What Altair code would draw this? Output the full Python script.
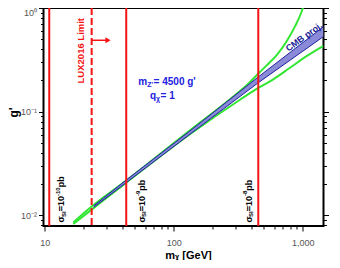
import altair as alt
import pandas as pd

# ---------------- data ----------------
X_DOMAIN = [9.8, 1450]
Y_DOMAIN = [0.00785, 1.0]

x_major_values = [10, 100, 1000]
x_major_labels = ["10", "100", "1,000"]
x_minor_values = [20, 30, 40, 50, 60, 70, 80, 90, 200, 300, 400, 500, 600, 700, 800, 900]
y_major_values = [0.01, 0.1, 1.0]
y_major_labels = ["10⁻²", "10⁻¹", "10⁰"]
y_minor_values = [0.008, 0.009, 0.02, 0.03, 0.04, 0.05, 0.06, 0.07, 0.08, 0.09,
                  0.2, 0.3, 0.4, 0.5, 0.6, 0.7, 0.8, 0.9]

# direct-detection limit lines (GeV)
sigma_line_m = [10.86, 42.9, 452.7]
lux_line_m = [23.14]

# CMB projection band
band_m = [24, 42.9, 133.8, 452.7, 1450]
band_lo = [0.0119, 0.0206, 0.0605, 0.190, 0.53]
band_hi = [0.0123, 0.0218, 0.065, 0.216, 0.66]

# green curves
upper_m = [16.66, 23.14, 42.9, 133.8, 326.6, 368.1, 452.7, 526, 628.6, 751.6, 871.6, 982.2, 1011]
upper_g = [0.0085, 0.0121, 0.0216, 0.066, 0.158, 0.180, 0.232, 0.279, 0.350, 0.4773, 0.6645, 0.9257, 1.034]
lower_m = [16.66, 23.14, 42.9, 133.8, 326.6, 452.7, 591.7, 797.2, 1074, 1450]
lower_g = [0.0082, 0.0113, 0.0206, 0.0605, 0.130, 0.169, 0.2047, 0.2646, 0.3424, 0.43]

# annotations
sigma_label_m = [13.49, 56.8, 383.6]
sigma_label_g = [0.00848, 0.00848, 0.00848]
sigma_label_exp = ["-10", "-9", "-8"]
lux_label = "LUX2016 Limit"
lux_label_m, lux_label_g = 19.1, 0.387
arrow_m = [23.14, 31.0]
arrow_g = 0.488
mz_label_m, mz_label_g = 53.2, 0.193
qx_label_m, qx_label_g = 65.5, 0.1416
cmb_label_m, cmb_label_g = 1023, 0.527

RED = "#f41414"
GREEN = "#33e633"
BAND_FILL = "#8a8ad8"
BAND_EDGE = "#20209e"
TXT_BLUE = "#2121e0"
FONT = "Liberation Sans"

# ---------------- helpers ----------------
def label_expr(vals, labs):
    expr = "''"
    for v, l in reversed(list(zip(vals, labs))):
        expr = f"datum.value == {v} ? '{l}' : " + expr
    return expr


xs = alt.Scale(type="log", domain=X_DOMAIN, nice=False)
ys = alt.Scale(type="log", domain=Y_DOMAIN, nice=False)

common = dict(grid=False, domain=False, tickColor="black", tickWidth=1)

x_axis_major = alt.Axis(values=x_major_values, labelExpr=label_expr(x_major_values, x_major_labels),
                        tickSize=5, labelColor="#555555", labelFontSize=9, labelFont=FONT,
                        labelPadding=7, labelOverlap=False, labelFlush=False, orient="bottom",
                        title="mᵪ [GeV]", titleFont=FONT, titleFontSize=11, titleFontWeight="bold",
                        titleColor="black", titleX=144.5, titleY=29, titleBaseline="middle", **common)
x_axis_minor = alt.Axis(values=x_minor_values, labels=False, tickSize=3, orient="bottom", title="", **common)

y_axis_major = alt.Axis(values=y_major_values, labelExpr=label_expr(y_major_values, y_major_labels),
                        tickSize=5, labelColor="#555555", labelFontSize=9, labelFont=FONT,
                        labelPadding=2, labelOverlap=False, labelFlush=True, orient="left",
                        title="g'", titleFont=FONT, titleFontSize=12, titleFontWeight="bold",
                        titleColor="black", titleX=-30, titleY=104, titleAngle=270,
                        titleAlign="center", titleBaseline="middle", **common)
y_axis_minor = alt.Axis(values=y_minor_values, labels=False, tickSize=3, orient="left", title="", **common)
y_axis_right_major = alt.Axis(values=y_major_values, labels=False, tickSize=5, orient="right", title="", **common)
y_axis_right_minor = alt.Axis(values=y_minor_values, labels=False, tickSize=3, orient="right", title="", **common)


def X(field="m", axis=None):
    return alt.X(f"{field}:Q", scale=xs, axis=axis)


def Y(field="g", axis=None):
    return alt.Y(f"{field}:Q", scale=ys, axis=axis)


layers = []

# invisible layers carrying the axes
base_df = pd.DataFrame({"m": band_m, "g": band_hi})
layers.append(alt.Chart(base_df).mark_point(opacity=0).encode(x=X(axis=x_axis_major), y=Y(axis=y_axis_major)))
layers.append(alt.Chart(base_df).mark_point(opacity=0).encode(x=X(axis=x_axis_minor), y=Y(axis=y_axis_minor)))
layers.append(alt.Chart(base_df).mark_point(opacity=0).encode(x=X(), y=Y(axis=y_axis_right_major)))
layers.append(alt.Chart(base_df).mark_point(opacity=0).encode(x=X(), y=Y(axis=y_axis_right_minor)))

# green curves
up_df = pd.DataFrame({"m": upper_m, "g": upper_g})
lo_df = pd.DataFrame({"m": lower_m, "g": lower_g})
layers.append(alt.Chart(up_df).mark_line(color=GREEN, strokeWidth=2, clip=True, interpolate="monotone")
              .encode(x=X(), y=Y(), order="m:Q"))
layers.append(alt.Chart(lo_df).mark_line(color=GREEN, strokeWidth=2, clip=True, interpolate="monotone")
              .encode(x=X(), y=Y(), order="m:Q"))

# band
band_df = pd.DataFrame({"m": band_m, "lo": band_lo, "hi": band_hi})
layers.append(alt.Chart(band_df).mark_area(color=BAND_FILL, opacity=1, clip=True)
              .encode(x=X(), y=Y("hi"), y2="lo:Q"))
layers.append(alt.Chart(band_df).mark_line(color=BAND_EDGE, strokeWidth=1, clip=True)
              .encode(x=X(), y=Y("hi")))
layers.append(alt.Chart(band_df).mark_line(color=BAND_EDGE, strokeWidth=1, clip=True)
              .encode(x=X(), y=Y("lo")))

# red vertical lines
layers.append(alt.Chart(pd.DataFrame({"m": sigma_line_m})).mark_rule(color=RED, strokeWidth=2)
              .encode(x=X()))
layers.append(alt.Chart(pd.DataFrame({"m": lux_line_m})).mark_rule(color=RED, strokeWidth=2, strokeDash=[7, 3])
              .encode(x=X()))

# arrow
arrow_df = pd.DataFrame({"m": [arrow_m[0]], "m2": [arrow_m[1]], "g": [arrow_g]})
layers.append(alt.Chart(arrow_df).mark_rule(color=RED, strokeWidth=1.5)
              .encode(x=X(), x2="m2:Q", y=Y()))
layers.append(alt.Chart(pd.DataFrame({"m": [arrow_m[1]], "g": [arrow_g]}))
              .mark_point(shape="triangle-right", filled=True, color=RED, size=35, opacity=1)
              .encode(x=X(), y=Y()))

# LUX label
layers.append(alt.Chart(pd.DataFrame({"m": [lux_label_m], "g": [lux_label_g], "t": [lux_label]}))
              .mark_text(angle=270, align="center", baseline="middle", font=FONT, fontSize=9.5,
                         fontWeight="bold", color=RED)
              .encode(x=X(), y=Y(), text="t:N"))

# sigma labels (rotated, composed of pieces)
W = {'σ': 617, 'S': 667, 'I': 278, '=': 584, '1': 556, '0': 556, '9': 556, '8': 556,
     '-': 333, ' ': 278, 'p': 611, 'b': 611}


def width(s, size):
    return sum(W[c] for c in s) * size / 1000.0


BIG, SMALL = 9, 6
for m, g, e in zip(sigma_label_m, sigma_label_g, sigma_label_exp):
    pieces = [("σ", BIG, 0), ("SI", SMALL, 2.5), ("=10", BIG, 0), (e, SMALL, -3.5), (" pb", BIG, 0)]
    off = 0.0
    df = pd.DataFrame({"m": [m], "g": [g]})
    for txt, size, dy in pieces:
        layers.append(alt.Chart(df.assign(t=txt))
                      .mark_text(angle=270, align="left", baseline="middle", font=FONT, fontSize=size,
                                 fontWeight="bold", color="black", dx=off, dy=dy)
                      .encode(x=X(), y=Y(), text="t:N"))
        off += width(txt, size)

# m_Z' label
mz_df = pd.DataFrame({"m": [mz_label_m], "g": [mz_label_g]})
for txt, size, dx, dy in [("m", 10, 0, 0), ("Z'", 7, 8.9, 3), (" = 4500 g'", 10, 15.3, 0)]:
    layers.append(alt.Chart(mz_df.assign(t=txt))
                  .mark_text(align="left", baseline="middle", font=FONT, fontSize=size,
                             fontWeight="bold", color=TXT_BLUE, dx=dx, dy=dy)
                  .encode(x=X(), y=Y(), text="t:N"))

qx_df = pd.DataFrame({"m": [qx_label_m], "g": [qx_label_g]})
for txt, size, dx, dy in [("q", 10, 0, 0), ("χ", 7, 6.1, 3), (" = 1", 10, 10.6, 0)]:
    layers.append(alt.Chart(qx_df.assign(t=txt))
                  .mark_text(align="left", baseline="middle", font=FONT, fontSize=size,
                             fontWeight="bold", color=TXT_BLUE, dx=dx, dy=dy)
                  .encode(x=X(), y=Y(), text="t:N"))

# CMB proj. label
layers.append(alt.Chart(pd.DataFrame({"m": [cmb_label_m], "g": [cmb_label_g], "t": ["CMB proj."]}))
              .mark_text(angle=324, align="center", baseline="middle", font=FONT, fontSize=9,
                         fontWeight="bold", color="#1c1c96")
              .encode(x=X(), y=Y(), text="t:N"))

chart = (alt.layer(*layers)
         .resolve_axis(x="independent", y="independent")
         .properties(width=280, height=218, background="white",
                     autosize=alt.AutoSizeParams(type="none"),
                     padding={"left": 35.5, "top": 0, "right": 8, "bottom": 34})
         .configure_view(stroke="black", strokeWidth=2))

chart.save("out.html", embed_options={"renderer": "svg", "actions": False})
